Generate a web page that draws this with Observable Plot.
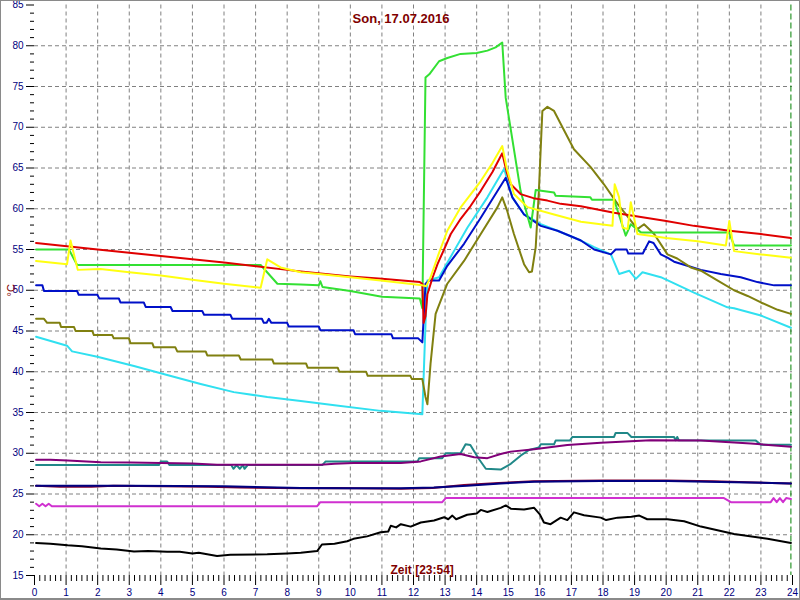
<!DOCTYPE html>
<html>
<head>
<meta charset="utf-8">
<script src="https://cdn.jsdelivr.net/npm/d3@7"></script>
<script src="https://cdn.jsdelivr.net/npm/@observablehq/plot@0.6"></script>
<style>
  html, body { margin: 0; padding: 0; background: #fff; }
  #wrap { position: relative; width: 800px; height: 600px; overflow: hidden; }
  #border { position: absolute; left: 0; top: 0; width: 800px; height: 600px; box-sizing: border-box;
            border: 1px solid #8a8a8a; border-bottom-width: 2px; pointer-events: none; }
</style>
</head>
<body>
<div id="wrap"><div id="chart"></div><div id="border"></div></div>
<script>
// ---- tick labels / texts ----
const titleText = "Son, 17.07.2016";
const xLabelText = "Zeit [23:54]";
const yLabelText = "°C";
const xTicks = d3.range(0, 25);            // hours
const yTicks = d3.range(15, 86, 5);        // °C
const nowHour = 23.95;                     // current time marker

// ---- series: [hour, °C] ----
const red = [[0.05,55.8],[2,55.0],[4,54.2],[6,53.4],[8,52.5],[8.43,52.3],[10,51.7],[11,51.4],[12.2,51.0],[12.28,50.8],[12.32,46.0],[12.38,46.8],[12.44,49.5],[12.6,51.5],[12.76,53.2],[13.0,55.3],[13.18,56.9],[13.5,58.8],[13.8,60.3],[14.13,62.2],[14.5,64.5],[14.81,66.8],[14.95,64.5],[15.08,63.0],[15.39,61.8],[15.8,61.3],[16.24,61.0],[16.66,60.6],[17.3,60.3],[18.35,59.5],[19,59.1],[20,58.5],[20.88,57.9],[22,57.3],[23,56.9],[23.95,56.4]];
const green = [[0.05,55.0],[1.09,55.0],[1.35,53.1],[7.16,53.1],[7.69,50.8],[8.43,50.7],[9.0,50.6],[9.05,51.1],[9.12,50.4],[10,49.9],[11,49.2],[12.2,49.0],[12.28,47.8],[12.38,76.1],[12.5,76.5],[12.81,78.1],[13.07,78.5],[13.49,79.0],[14.0,79.1],[14.34,79.4],[14.6,79.8],[14.81,80.4],[14.92,73.6],[15.39,62.2],[15.71,57.7],[15.87,62.3],[16.45,62.0],[16.5,61.6],[17.6,61.4],[17.65,61.1],[18.35,61.1],[18.72,56.7],[18.88,58.1],[19.2,57.1],[21.99,57.1],[22.15,55.5],[23.95,55.5]];
const yellow = [[0.05,53.6],[1.03,53.2],[1.14,56.1],[1.37,52.5],[2.09,52.6],[3,52.2],[4,51.8],[5,51.3],[6,50.8],[7.16,50.3],[7.37,53.8],[7.79,52.8],[8.43,52.2],[9,52.0],[10,51.6],[10.96,51.2],[12.28,50.6],[12.4,50.5],[12.54,51.6],[12.8,54.5],[13.07,57.3],[13.5,60.2],[14.13,63.4],[14.5,65.6],[14.81,67.7],[14.95,65.0],[15.18,61.8],[15.61,60.2],[16.45,59.3],[17.3,58.4],[18.3,57.9],[18.37,63.0],[18.51,61.4],[18.62,57.7],[18.78,57.5],[18.88,60.8],[19.09,56.9],[20,56.4],[21,56.0],[21.89,55.5],[22.0,58.5],[22.15,54.8],[23,54.4],[23.95,54.0]];
const blue = [[0.05,50.6],[0.25,50.6],[0.3,49.9],[1.35,49.9],[1.4,49.45],[1.99,49.45],[2.05,49.0],[2.67,49.0],[2.72,48.5],[3.46,48.5],[3.52,47.95],[4.31,47.95],[4.37,47.45],[5.31,47.45],[5.37,47.0],[6.2,47.0],[6.26,46.5],[7.2,46.5],[7.26,46.0],[7.35,46.0],[7.42,46.5],[7.5,46.0],[8.0,46.0],[8.05,45.55],[9.0,45.55],[9.05,45.1],[10.1,45.1],[10.15,44.6],[11.3,44.6],[11.35,44.1],[12.15,44.1],[12.28,43.6],[12.38,50.8],[12.5,51.2],[12.81,51.2],[13.07,53.0],[13.6,55.7],[14.13,58.9],[14.5,61.2],[14.92,63.8],[15.13,61.4],[15.5,59.3],[16.03,57.9],[16.56,57.3],[17.0,56.6],[17.3,56.1],[17.72,55.0],[18.25,54.4],[18.4,55.0],[18.75,55.0],[18.8,54.5],[19.26,54.5],[19.46,56.0],[19.6,55.8],[19.83,54.4],[20.04,54.0],[20.25,53.5],[20.67,53.0],[21.1,52.5],[21.73,52.0],[22.36,51.6],[22.89,51.0],[23.42,50.6],[23.95,50.6]];
const cyan = [[0.05,44.3],[1.03,43.2],[1.19,42.5],[1.99,41.85],[3.15,40.7],[4.2,39.6],[5.26,38.5],[6.31,37.5],[7.37,36.9],[8.43,36.4],[9.5,35.9],[10.96,35.2],[12.28,34.8],[12.38,45.9],[12.44,51.2],[12.81,51.6],[13.28,54.8],[13.71,57.7],[14.34,61.4],[14.87,64.9],[15.13,61.4],[15.5,59.3],[16.03,58.1],[16.56,57.3],[17.3,56.1],[17.72,55.3],[18.25,54.4],[18.51,52.0],[18.83,52.4],[19.04,51.4],[19.25,52.2],[19.83,51.6],[20.88,49.7],[21.94,47.9],[22.15,47.8],[23.0,46.9],[23.95,45.4]];
const olive = [[0.05,46.5],[0.3,46.5],[0.4,46.0],[0.8,46.0],[0.84,45.5],[1.25,45.5],[1.3,45.0],[1.83,45.0],[1.88,44.5],[2.46,44.5],[2.51,44.1],[2.99,44.1],[3.04,43.5],[3.73,43.5],[3.78,43.0],[4.46,43.0],[4.52,42.5],[5.42,42.5],[5.47,42.0],[6.47,42.0],[6.53,41.5],[7.53,41.5],[7.58,41.0],[8.6,41.0],[8.65,40.5],[9.6,40.5],[9.65,40.0],[10.5,40.0],[10.55,39.5],[11.9,39.5],[11.95,39.1],[12.28,39.1],[12.38,36.9],[12.44,36.0],[12.54,41.0],[12.7,47.1],[13.07,50.8],[13.6,53.6],[14.13,56.9],[14.66,60.2],[14.81,61.4],[14.97,59.7],[15.18,56.9],[15.5,53.2],[15.66,52.2],[15.75,52.3],[15.87,55.3],[15.97,62.2],[16.08,72.0],[16.24,72.5],[16.45,72.0],[16.77,69.6],[17.08,67.3],[17.61,65.1],[18.03,63.0],[18.46,60.6],[18.77,59.1],[19.09,57.5],[19.3,58.1],[19.62,56.9],[20.04,54.4],[20.35,53.9],[20.78,52.8],[21.1,52.4],[21.62,51.2],[22.15,50.0],[22.58,49.3],[23.0,48.5],[23.53,47.6],[23.95,47.1]];
const purple = [[0.05,29.2],[0.5,29.2],[1.05,29.1],[2.1,28.9],[3.04,28.85],[4.0,28.8],[5.0,28.75],[5.78,28.6],[9.06,28.6],[9.5,28.7],[10.1,28.8],[11.6,28.8],[12.23,29.0],[12.86,29.6],[13.49,29.9],[13.92,29.5],[14.34,29.4],[14.76,29.9],[15.08,30.2],[15.82,30.5],[16.87,31.0],[17.93,31.3],[19.51,31.6],[21.1,31.55],[22.68,31.2],[23.95,30.8]];
const teal = [[0.05,28.55],[3.94,28.55],[4.0,29.0],[4.2,29.0],[4.27,28.55],[6.23,28.55],[6.3,28.1],[6.4,28.55],[6.5,28.1],[6.6,28.55],[6.65,28.1],[6.75,28.55],[9.11,28.55],[9.22,29.0],[12.13,29.0],[12.18,29.4],[12.91,29.4],[13.02,30.0],[13.49,30.0],[13.65,31.1],[13.8,31.0],[14.07,29.3],[14.29,28.1],[14.76,28.0],[15.08,28.7],[15.39,29.7],[15.66,30.4],[15.97,30.7],[16.03,31.1],[16.45,31.1],[16.5,31.55],[16.95,31.55],[17.03,32.0],[18.35,32.0],[18.4,32.5],[18.77,32.5],[18.9,32.0],[20.25,32.0],[20.3,31.6],[20.35,32.0],[20.4,31.6],[22.84,31.55],[23.0,31.05],[23.95,31.05]];
const maroon = [[0.05,26.0],[0.8,25.9],[1.8,25.9],[2.5,26.0],[5.5,25.9],[6.5,25.8],[8.5,25.7],[9.5,25.75],[11.6,25.65],[12.6,25.75],[13.6,26.1],[14.7,26.35],[15.8,26.55],[18,26.65],[20,26.65],[21.5,26.55],[23.95,26.3]];
const navy = [[0.05,26.0],[3,26.0],[6,25.95],[8.43,25.75],[10,25.7],[11.6,25.7],[12.65,25.8],[13.7,26.0],[14.76,26.3],[15.82,26.5],[17.93,26.6],[20.04,26.6],[22.15,26.45],[23.95,26.3]];
const magenta = [[0.05,23.8],[0.15,23.5],[0.25,23.8],[0.35,23.5],[0.45,23.8],[0.55,23.5],[8.95,23.5],[9.05,24.0],[12.91,24.0],[13.02,24.5],[21.83,24.5],[22.05,24.0],[23.31,24.0],[23.4,24.5],[23.5,24.0],[23.6,24.5],[23.7,24.0],[23.8,24.5],[23.95,24.4]];
const black = [[0.05,19.0],[0.5,18.9],[1.05,18.7],[1.5,18.6],[2.1,18.3],[2.6,18.2],[3.15,17.95],[3.6,18.0],[4.2,17.9],[4.6,17.9],[5.0,17.7],[5.2,17.8],[5.78,17.4],[6.2,17.55],[7.37,17.6],[8.0,17.7],[8.43,17.8],[8.95,18.0],[9.1,18.8],[9.5,18.9],[9.9,19.2],[10.1,19.5],[10.53,19.8],[10.96,20.3],[11.2,20.4],[11.28,21.1],[11.45,20.9],[11.6,21.3],[11.91,21.0],[12.23,21.5],[12.65,21.75],[12.97,22.15],[13.1,21.9],[13.23,22.35],[13.35,21.9],[13.7,22.45],[14.0,22.6],[14.13,23.05],[14.34,22.8],[14.76,23.3],[14.92,23.6],[15.08,23.2],[15.5,23.1],[15.82,23.3],[16.0,22.5],[16.13,21.5],[16.34,21.3],[16.66,22.1],[16.87,21.8],[17.08,22.75],[17.4,22.4],[17.93,22.1],[18.1,21.8],[18.46,22.1],[18.9,22.2],[19.15,22.35],[19.4,21.9],[20.04,21.9],[20.57,21.65],[21.1,21.0],[22.15,20.1],[23.21,19.5],[23.95,19.0]];

// draw order (first = bottom) and colours
const seriesNames = ["black","magenta","maroon","navy","teal","purple","cyan","blue","olive","green","red","yellow"];
const seriesData = {black, magenta, maroon, navy, teal, purple, cyan, blue, olive, green, red, yellow};
const seriesColors = ["#000000","#d030d0","#800030","#000080","#208888","#800078","#30e0f0","#0010c8","#808010","#33e033","#e00000","#ffff10"];

const table = seriesNames.flatMap((s, i) => seriesData[s].map(([h, v]) => ({s, h, v, c: seriesColors[i]})));

const minorX = d3.range(0, 24 * 6 + 1).map(i => i / 6).filter(h => Math.abs(h - Math.round(h)) > 1e-6);
const minorY = d3.range(15, 86).filter(v => v % 5 !== 0);
const darkRed = "#800000";
const tickFill = "#000080";

const chart = Plot.plot({
  width: 800,
  height: 600,
  marginLeft: 34,
  marginRight: 8,
  marginTop: 4.5,
  marginBottom: 25,
  style: {background: "#ffffff", fontFamily: "'Liberation Sans', Arial, sans-serif", fontSize: "10px"},
  x: {domain: [0, 24]},
  y: {domain: [15, 85]},
  marks: [
    Plot.gridX({ticks: d3.range(1, 24), stroke: "#808080", strokeOpacity: 1, strokeDasharray: "4,3"}),
    Plot.gridY({ticks: d3.range(20, 81, 5), stroke: "#808080", strokeOpacity: 1, strokeDasharray: "4,3"}),
    Plot.ruleX([nowHour], {stroke: "#008000", strokeDasharray: "6,3"}),
    Plot.axisX({ticks: xTicks, tickSize: 10, tickPadding: 3, stroke: "#000", fill: tickFill, label: null, tickFormat: d => d}),
    Plot.axisX({ticks: minorX, tickSize: 6, stroke: "#000", fill: "none", label: null}),
    Plot.axisY({ticks: yTicks, tickSize: 8, tickPadding: 3, stroke: "#000", fill: tickFill, label: null}),
    Plot.axisY({ticks: minorY, tickSize: 4, stroke: "#000", fill: "none", label: null}),
    ...seriesNames.map((s, i) => Plot.line(table.filter(d => d.s === s), {x: "h", y: "v", stroke: seriesColors[i], strokeWidth: 2})),
    Plot.text([titleText], {frameAnchor: "top", dx: -12.5, dy: 9, lineAnchor: "top", fill: darkRed, fontWeight: "bold", fontSize: 13}),
    Plot.text([xLabelText], {frameAnchor: "bottom", textAnchor: "start", dx: -23, dy: -2, lineAnchor: "bottom", fill: darkRed, fontWeight: "bold", fontSize: 12}),
    Plot.text([yLabelText], {frameAnchor: "left", textAnchor: "middle", lineAnchor: "middle", dx: -23, dy: 0, rotate: -90, fill: darkRed, fontSize: 11})
  ]
});
document.getElementById("chart").appendChild(chart);
</script>
</body>
</html>
